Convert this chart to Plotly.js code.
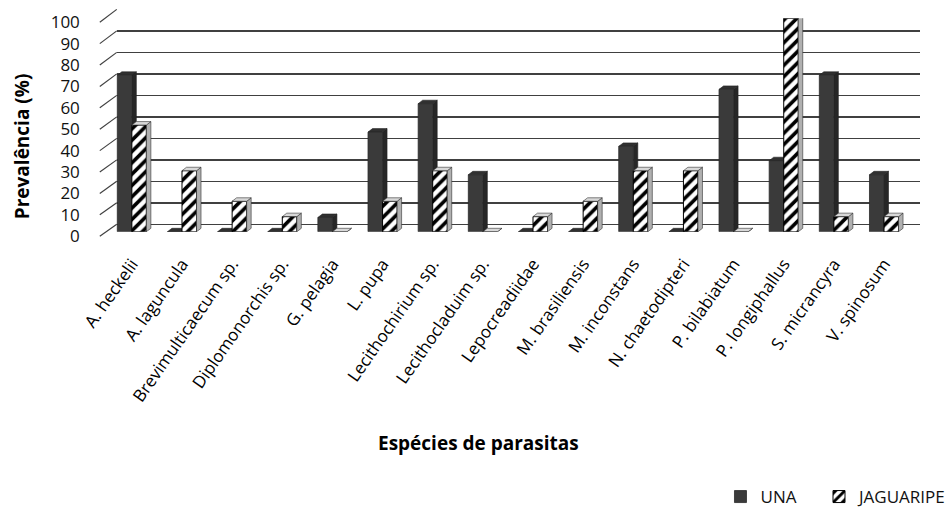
<!DOCTYPE html>
<html><head><meta charset="utf-8">
<script src="https://cdn.plot.ly/plotly-3.0.1.min.js"></script>
<style>html,body{margin:0;padding:0;background:#fff}#chart{width:952px;height:515px}</style>
</head><body><div id="chart"></div>
<script>
// ---- data ----
const categories = ['A. heckelii','A. laguncula','Brevimulticaecum sp.','Diplomonorchis sp.','G. pelagia','L. pupa','Lecithochirium sp.','Lecithocladuim sp.','Lepocreadiidae','M. brasiliensis','M. inconstans','N. chaetodipteri','P. bilabiatum','P. longiphallus','S. micrancyra','V. spinosum'];
const unaValues = [73.3, 0, 0, 0, 6.7, 46.7, 60, 26.7, 0, 0, 40, 0, 66.7, 33.3, 73.3, 26.7];
const jaguaripeValues = [50, 28.6, 14.3, 7.1, 0, 14.3, 28.6, 0, 7.1, 14.3, 28.6, 28.6, 0, 100, 7.1, 7.1];
const seriesNames = ['UNA', 'JAGUARIPE'];
const yTickValues = [0,10,20,30,40,50,60,70,80,90,100];
const yTickLabels = yTickValues.map(String);

// ---- geometry (pixels) ----
const W = 952, H = 515;
const fx = p => p / W;
const fy = p => 1 - p / H;
const BAR = {left: 107, right: 911, top: 18.5, bottom: 234.5};
const WALL = {left: 117, right: 922, top: 9.5, bottom: 227};
const LAB = {left: 81, right: 100, top: 22.5, bottom: 239};
const BARGAP = 0.42;
const bw = (1 - BARGAP) / 2;
const catPx = (BAR.right - BAR.left) / categories.length;
const unitPx = (BAR.bottom - BAR.top) / 100;
const dX = 4.5 / catPx, dY = 3.5 / unitPx;
const idx = categories.map((_, i) => i);

const traces = [
  {type:'scatter', x:[0], y:[0], xaxis:'x', yaxis:'y', mode:'markers', marker:{opacity:0}, showlegend:false, hoverinfo:'skip'},
  {type:'scatter', x:[0], y:[0], xaxis:'x3', yaxis:'y3', mode:'markers', marker:{opacity:0}, showlegend:false, hoverinfo:'skip'},
  {type:'bar', name:seriesNames[0], x:idx, y:unaValues, xaxis:'x2', yaxis:'y2', legend:'legend',
   marker:{color:'#3a3a3a', line:{color:'#2a2a2a', width:0.8}}},
  {type:'bar', name:seriesNames[1], x:idx, y:jaguaripeValues, xaxis:'x2', yaxis:'y2', legend:'legend2',
   marker:{color:'#ffffff', pattern:{shape:'/', fgcolor:'#000000', bgcolor:'#ffffff', size:8, solidity:0.45},
           line:{color:'#000000', width:1}}}
];

const shapes = [];
function faces(vals, offset, sideCol, topCol, lineCol, layer) {
  vals.forEach((v, i) => {
    const a = i + offset, b = a + bw;
    shapes.push({type:'path', xref:'x2', yref:'y2', layer:layer,
      path:`M${b},0 L${b+dX},${dY} L${b+dX},${v+dY} L${b},${v} Z`,
      fillcolor:sideCol, line:{color:lineCol, width:0.6}});
    shapes.push({type:'path', xref:'x2', yref:'y2', layer:layer,
      path:`M${a},${v} L${a+dX},${v+dY} L${b+dX},${v+dY} L${b},${v} Z`,
      fillcolor:topCol, line:{color:lineCol, width:0.6}});
  });
}
faces(unaValues, -bw, '#262626', '#303030', '#222222', 'below');
faces(jaguaripeValues, 0, '#b0b0b0', '#d8d8d8', '#333333', 'above');

yTickValues.forEach(v => {
  const ly = LAB.bottom - v / 100 * (LAB.bottom - LAB.top);
  const wy = WALL.bottom - v / 100 * (WALL.bottom - WALL.top);
  shapes.push({type:'line', xref:'paper', yref:'paper', x0:fx(LAB.right), y0:fy(ly), x1:fx(WALL.left), y1:fy(wy),
    line:{color:'#404040', width:1.2}});
});

const legendFont = {family:'Open Sans, sans-serif', size:17, color:'#111'};
const layout = {
  width: W, height: H, margin:{l:0, r:0, t:0, b:0},
  paper_bgcolor:'#ffffff', plot_bgcolor:'rgba(0,0,0,0)',
  barmode:'group', bargap:BARGAP, bargroupgap:0,
  font:{family:'Open Sans, sans-serif', color:'#000'},
  showlegend:true,
  xaxis:{domain:[fx(WALL.left), fx(WALL.right)], range:[0,1], anchor:'y', showgrid:false, zeroline:false, showticklabels:false, ticks:'', fixedrange:true},
  yaxis:{domain:[fy(WALL.bottom), fy(WALL.top)], range:[0,100], anchor:'x', tickvals:yTickValues, showgrid:true, gridcolor:'#404040', gridwidth:1.5,
         zeroline:true, zerolinecolor:'#404040', zerolinewidth:1.5, showticklabels:false, ticks:'', fixedrange:true},
  xaxis2:{domain:[fx(BAR.left), fx(BAR.right)], range:[-0.5, categories.length - 0.5], anchor:'y2',
          tickvals:idx, ticktext:categories, tickangle:-55, ticks:'', ticklabelstandoff:18,
          tickfont:{family:'Open Sans, sans-serif', size:17, color:'#000'}, showgrid:false, zeroline:false, showline:false, fixedrange:true},
  yaxis2:{domain:[fy(BAR.bottom), fy(BAR.top)], range:[0,100], anchor:'x2', visible:false, fixedrange:true},
  xaxis3:{domain:[fx(LAB.left), fx(LAB.right)], range:[0,1], anchor:'y3', visible:false, fixedrange:true},
  yaxis3:{domain:[fy(LAB.bottom), fy(LAB.top)], range:[0,100], anchor:'x3', tickvals:yTickValues, ticktext:yTickLabels, ticks:'',
          showgrid:false, zeroline:false, showline:false, tickfont:{family:'Open Sans, sans-serif', size:17, color:'#111'}, fixedrange:true},
  legend:{orientation:'h', x:fx(722), xanchor:'left', y:fy(503), yanchor:'middle', font:legendFont, bgcolor:'rgba(0,0,0,0)'},
  legend2:{orientation:'h', x:fx(821), xanchor:'left', y:fy(503), yanchor:'middle', font:legendFont, bgcolor:'rgba(0,0,0,0)'},
  shapes: shapes,
  annotations:[
    {text:'<b>Espécies de parasitas</b>', xref:'paper', yref:'paper', x:fx(480), y:fy(448), showarrow:false,
     font:{family:'Open Sans, sans-serif', size:19, color:'#000'}, xanchor:'center', yanchor:'middle'},
    {text:'<b>Prevalência (%)</b>', xref:'paper', yref:'paper', x:fx(22), y:fy(148), showarrow:false, textangle:-90,
     font:{family:'Open Sans, sans-serif', size:19, color:'#000'}, xanchor:'center', yanchor:'middle'}
  ]
};
Plotly.newPlot('chart', traces, layout, {displayModeBar:false, staticPlot:true});
</script>
</body></html>
